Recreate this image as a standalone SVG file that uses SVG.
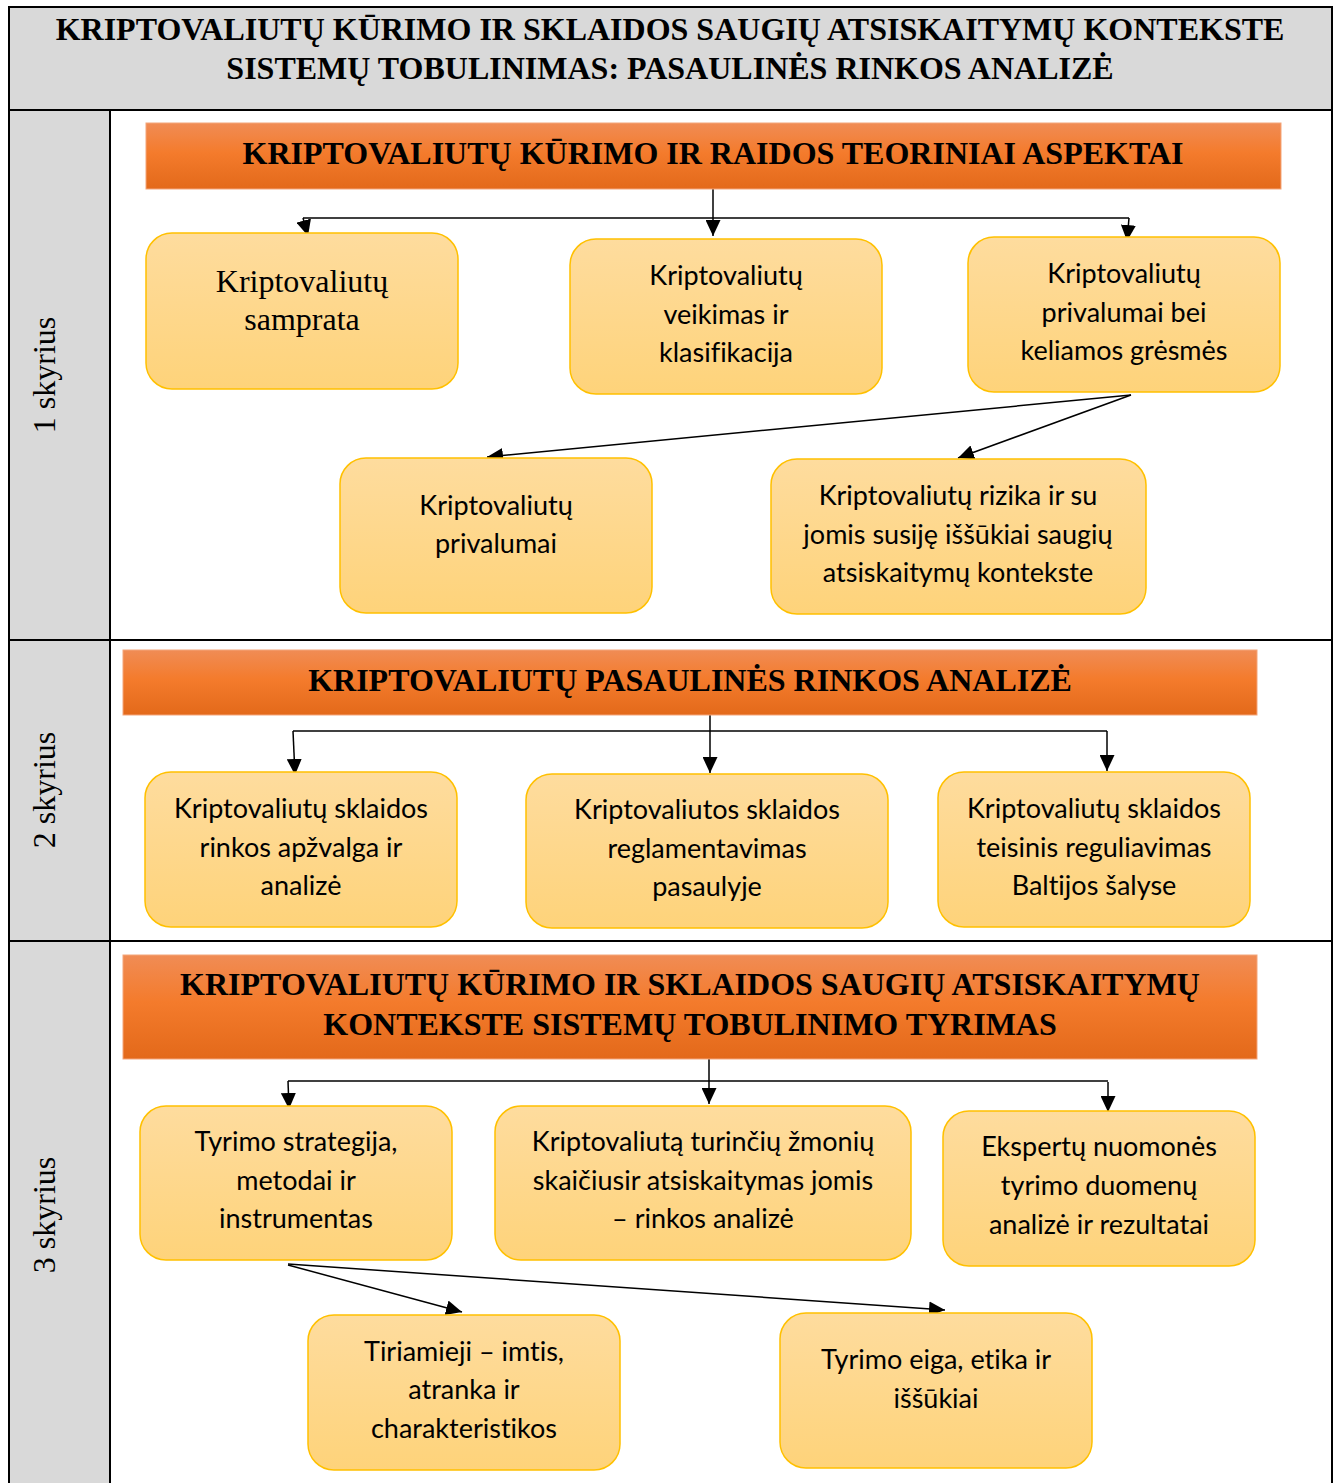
<svg xmlns="http://www.w3.org/2000/svg" width="1338" height="1483" viewBox="0 0 1338 1483">
<defs>
<linearGradient id="gBox" x1="0" y1="0" x2="0" y2="1">
<stop offset="0" stop-color="#fedc9e"/>
<stop offset="1" stop-color="#fed37a"/>
</linearGradient>
<linearGradient id="gBan" x1="0" y1="0" x2="0" y2="1">
<stop offset="0" stop-color="#f08c55"/>
<stop offset="0.45" stop-color="#f47b2c"/>
<stop offset="1" stop-color="#e3691a"/>
</linearGradient>
<marker id="arr" viewBox="0 0 16 15" refX="16" refY="7.5" markerWidth="16" markerHeight="15" markerUnits="userSpaceOnUse" orient="auto">
<path d="M0,0 L16,7.5 L0,15 Z" fill="#000"/>
</marker>
</defs>
<style>
.grid{fill:none;stroke:#000;stroke-width:2}
.gray{fill:#d9d9d9}
.box{fill:url(#gBox);stroke:#ffc000;stroke-width:1.5}
.ban{fill:url(#gBan);stroke:#f4a57a;stroke-width:1}
.t{font-family:Lato,"Open Sans","Liberation Sans",sans-serif;font-size:27px;fill:#000;text-anchor:middle;font-variant-ligatures:none;font-feature-settings:"liga" 0,"clig" 0,"dlig" 0,"calt" 0}
.s{font-family:"Liberation Serif","Times New Roman",serif;fill:#000;text-anchor:middle}
.h{font-family:"Liberation Serif","Times New Roman",serif;font-weight:bold;font-size:32px;fill:#000;text-anchor:middle}
.c{fill:none;stroke:#000;stroke-width:1.5}
.ca{fill:none;stroke:#000;stroke-width:1.5;marker-end:url(#arr)}
</style>
<rect x="0" y="0" width="1338" height="1483" fill="#fff"/>
<g id="table">
<rect class="gray" x="9" y="7" width="1323" height="103"/>
<rect class="gray" x="9" y="110" width="101" height="1373"/>
<path class="grid" d="M9,1483 V7 H1332 V1483 M9,110 H1332 M9,640 H1332 M9,941 H1332 M110,110 V1483"/>
<text class="h" x="670" y="40">KRIPTOVALIUTŲ KŪRIMO IR SKLAIDOS SAUGIŲ ATSISKAITYMŲ KONTEKSTE</text>
<text class="h" x="670" y="79">SISTEMŲ TOBULINIMAS: PASAULINĖS RINKOS ANALIZĖ</text>
<text class="s" font-size="32" transform="translate(55,375) rotate(-90)">1 skyrius</text>
<text class="s" font-size="32" transform="translate(55,790) rotate(-90)">2 skyrius</text>
<text class="s" font-size="32" transform="translate(55,1215) rotate(-90)">3 skyrius</text>
</g>
<g id="connectors">
<path class="c" d="M303,218 H1129"/>
<path class="ca" d="M713,189 V236"/>
<path class="ca" d="M303,218 L308,236"/>
<path class="ca" d="M1129,218 L1127,241"/>
<path class="ca" d="M1131,395 L487,457"/>
<path class="ca" d="M1131,395 L958,458"/>
<path class="c" d="M293,731 H1107"/>
<path class="ca" d="M710,715 V773"/>
<path class="ca" d="M293,731 L295,775"/>
<path class="ca" d="M1107,731 V771"/>
<path class="c" d="M288,1081 H1108"/>
<path class="ca" d="M709,1059 V1104"/>
<path class="ca" d="M288,1081 L289,1109"/>
<path class="ca" d="M1108,1082 L1108,1112"/>
<path class="ca" d="M288,1265 L462,1312"/>
<path class="ca" d="M288,1264 L945,1310"/>
</g>
<g id="banner1">
<rect class="ban" x="146" y="123" width="1135" height="66"/>
<text class="h" x="713" y="164">KRIPTOVALIUTŲ KŪRIMO IR RAIDOS TEORINIAI ASPEKTAI</text>
</g>
<g id="box-samprata">
<rect class="box" x="146" y="233" width="312" height="156" rx="26"/>
<text class="s" font-size="32" x="302" y="292">Kriptovaliutų</text>
<text class="s" font-size="32" x="302" y="330">samprata</text>
</g>
<g id="box-veikimas">
<rect class="box" x="570" y="239" width="312" height="155" rx="26"/>
<text class="t" x="726" y="285">Kriptovaliutų</text>
<text class="t" x="726" y="324">veikimas ir</text>
<text class="t" x="726" y="362">klasifikacija</text>
</g>
<g id="box-privalumai-gresmes">
<rect class="box" x="968" y="237" width="312" height="155" rx="26"/>
<text class="t" x="1124" y="283">Kriptovaliutų</text>
<text class="t" x="1124" y="322">privalumai bei</text>
<text class="t" x="1124" y="360">keliamos grėsmės</text>
</g>
<g id="box-privalumai">
<rect class="box" x="340" y="458" width="312" height="155" rx="26"/>
<text class="t" x="496" y="515">Kriptovaliutų</text>
<text class="t" x="496" y="553">privalumai</text>
</g>
<g id="box-rizika">
<rect class="box" x="771" y="459" width="375" height="155" rx="26"/>
<text class="t" x="958" y="505">Kriptovaliutų rizika ir su</text>
<text class="t" x="958" y="544">jomis susiję iššūkiai saugių</text>
<text class="t" x="958" y="582">atsiskaitymų kontekste</text>
</g>
<g id="banner2">
<rect class="ban" x="123" y="650" width="1134" height="65"/>
<text class="h" x="690" y="691">KRIPTOVALIUTŲ PASAULINĖS RINKOS ANALIZĖ</text>
</g>
<g id="box-apzvalga">
<rect class="box" x="145" y="772" width="312" height="155" rx="26"/>
<text class="t" x="301" y="818">Kriptovaliutų sklaidos</text>
<text class="t" x="301" y="857">rinkos apžvalga ir</text>
<text class="t" x="301" y="895">analizė</text>
</g>
<g id="box-reglamentavimas">
<rect class="box" x="526" y="774" width="362" height="154" rx="26"/>
<text class="t" x="707" y="819">Kriptovaliutos sklaidos</text>
<text class="t" x="707" y="858">reglamentavimas</text>
<text class="t" x="707" y="896">pasaulyje</text>
</g>
<g id="box-baltijos">
<rect class="box" x="938" y="772" width="312" height="155" rx="26"/>
<text class="t" x="1094" y="818">Kriptovaliutų sklaidos</text>
<text class="t" x="1094" y="857">teisinis reguliavimas</text>
<text class="t" x="1094" y="895">Baltijos šalyse</text>
</g>
<g id="banner3">
<rect class="ban" x="123" y="955" width="1134" height="104"/>
<text class="h" x="690" y="995">KRIPTOVALIUTŲ KŪRIMO IR SKLAIDOS SAUGIŲ ATSISKAITYMŲ</text>
<text class="h" x="690" y="1035">KONTEKSTE SISTEMŲ TOBULINIMO TYRIMAS</text>
</g>
<g id="box-strategija">
<rect class="box" x="140" y="1106" width="312" height="154" rx="26"/>
<text class="t" x="296" y="1151">Tyrimo strategija,</text>
<text class="t" x="296" y="1190">metodai ir</text>
<text class="t" x="296" y="1228">instrumentas</text>
</g>
<g id="box-rinkos">
<rect class="box" x="495" y="1106" width="416" height="154" rx="26"/>
<text class="t" x="703" y="1151">Kriptovaliutą turinčių žmonių</text>
<text class="t" x="703" y="1190">skaičiusir atsiskaitymas jomis</text>
<text class="t" x="703" y="1228">– rinkos analizė</text>
</g>
<g id="box-ekspertu">
<rect class="box" x="943" y="1111" width="312" height="155" rx="26"/>
<text class="t" x="1099" y="1156">Ekspertų nuomonės</text>
<text class="t" x="1099" y="1195">tyrimo duomenų</text>
<text class="t" x="1099" y="1234">analizė ir rezultatai</text>
</g>
<g id="box-tiriamieji">
<rect class="box" x="308" y="1315" width="312" height="155" rx="26"/>
<text class="t" x="464" y="1361">Tiriamieji – imtis,</text>
<text class="t" x="464" y="1399">atranka ir</text>
<text class="t" x="464" y="1438">charakteristikos</text>
</g>
<g id="box-eiga">
<rect class="box" x="780" y="1313" width="312" height="155" rx="26"/>
<text class="t" x="936" y="1369">Tyrimo eiga, etika ir</text>
<text class="t" x="936" y="1408">iššūkiai</text>
</g>
</svg>
